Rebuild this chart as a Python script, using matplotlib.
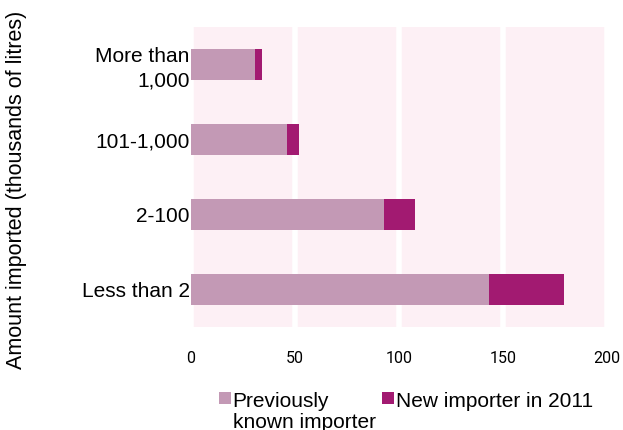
import numpy as np
import matplotlib.pyplot as plt

plt.rcParams['font.family'] = ['Liberation Sans', 'DejaVu Sans']

categories = ['Less than 2', '2-100', '101-1,000', 'More than\n1,000']
previous = [143.3, 92.8, 46.2, 30.8]
new_2011 = [36.0, 14.9, 5.7, 3.3]
xticks = [0, 50, 100, 150, 200]

c_prev = '#c399b5'
c_new = '#a21a71'

fig = plt.figure(figsize=(6.23, 4.30), dpi=100)
ax = fig.add_axes([191 / 623, 1 - 327 / 430, 416 / 623, 300 / 430])
ax.set_facecolor('#fdf0f5')

y = np.arange(len(categories))
ax.barh(y, previous, height=0.41, color=c_prev, label='Previously\nknown importer', zorder=3)
ax.barh(y, new_2011, left=previous, height=0.41, color=c_new, label='New importer in 2011', zorder=3)

ax.set_xlim(0, 200)
ax.set_ylim(-0.5, 3.5)
ax.set_yticks(y)
ax.set_yticklabels(categories, fontsize=15, linespacing=1.35)
ax.set_xticks(xticks)
ax.set_xticklabels([str(t) for t in xticks], fontsize=11.5, family=['Roboto', 'DejaVu Sans'])
ax.tick_params(length=0)
ax.tick_params(axis='y', pad=1)
ax.tick_params(axis='x', pad=17)
for s in ax.spines.values():
    s.set_visible(False)
ax.grid(axis='x', color='white', linewidth=4, zorder=1)

fig.text(17 / 623, 1 - 190 / 430, 'Amount imported (thousands of litres)', rotation=90,
         ha='center', va='center', fontsize=15.5)

leg = ax.legend(loc='upper left', bbox_to_anchor=(219 / 623, 1 - 392 / 430), bbox_transform=fig.transFigure,
                ncol=2, frameon=False, fontsize=15, handlelength=0.58, handleheight=0.48,
                handletextpad=0.08, columnspacing=0.3, borderaxespad=0, borderpad=0,
                labelspacing=0)
for t in leg.get_texts():
    t.set_linespacing(1.1)
# put the swatches and the second label next to the first text line
leg._legend_handle_box.align = 'top'
for col in leg._legend_handle_box.get_children():
    col.align = 'top'
    for row in col.get_children():
        row.align = 'top'

fig.savefig('out.png', dpi=100)
